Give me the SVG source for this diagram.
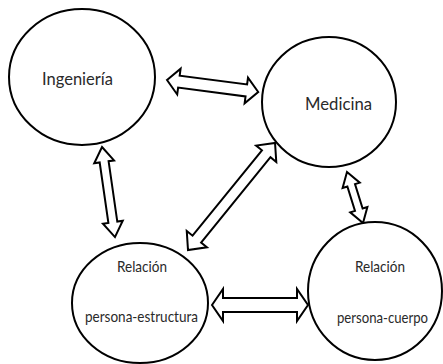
<svg xmlns="http://www.w3.org/2000/svg" width="443" height="364" viewBox="0 0 443 364">
<style>
.node{fill:#fff;stroke:#000;stroke-width:2}
.arr{fill:#fff;stroke:#000;stroke-width:2;stroke-linejoin:miter}
.t{font-family:Lato,"Liberation Sans",sans-serif;fill:#2a2a2a}
.big{font-size:18px}
.sm{font-size:16px}
</style>
<rect width="443" height="364" fill="#fff"/>
<g id="connectors">
<polygon class="arr" transform="translate(167,80) rotate(7.5)" points="0,0 12,-13 12,-6 80,-6 80,-13 92,0 80,13 80,6 12,6 12,13"/>
<polygon class="arr" transform="translate(102,147) rotate(81.8)" points="0,0 15,-10 15,-4.5 76,-4.5 76,-10 91,0 76,10 76,4.5 15,4.5 15,10"/>
<polygon class="arr" transform="translate(188,250) rotate(-50.9)" points="0,0 14,-13 14,-5.5 124,-5.5 124,-13 138,0 124,13 124,5.5 14,5.5 14,13"/>
<polygon class="arr" transform="translate(347,172) rotate(72.6)" points="0,0 14,-9 14,-4 39.5,-4 39.5,-9 53.5,0 39.5,9 39.5,4 14,4 14,9"/>
<polygon class="arr" transform="translate(212,305)" points="0,0 11,-16 11,-7 85,-7 85,-16 96,0 85,16 85,7 11,7 11,16"/>
</g>
<g id="ingenieria">
<ellipse class="node" cx="82" cy="77" rx="73" ry="68"/>
<text class="t big" x="42" y="85" textLength="71" lengthAdjust="spacingAndGlyphs">Ingeniería</text>
</g>
<g id="medicina">
<ellipse class="node" cx="329" cy="102" rx="67" ry="65"/>
<text class="t big" x="305" y="110" textLength="67" lengthAdjust="spacingAndGlyphs">Medicina</text>
</g>
<g id="persona-estructura">
<ellipse class="node" cx="140" cy="303" rx="68" ry="60"/>
<text class="t sm" x="117" y="272" textLength="50" lengthAdjust="spacingAndGlyphs">Relación</text>
<text class="t sm" x="85" y="322" textLength="113" lengthAdjust="spacingAndGlyphs">persona-estructura</text>
</g>
<g id="persona-cuerpo">
<ellipse class="node" cx="375" cy="291" rx="67" ry="69"/>
<text class="t sm" x="355" y="272" textLength="50" lengthAdjust="spacingAndGlyphs">Relación</text>
<text class="t sm" x="337" y="323" textLength="91" lengthAdjust="spacingAndGlyphs">persona-cuerpo</text>
</g>
</svg>
